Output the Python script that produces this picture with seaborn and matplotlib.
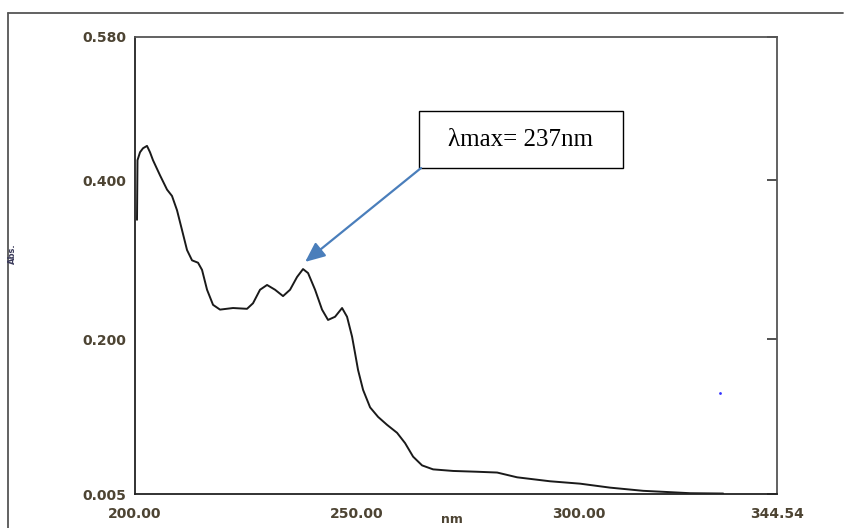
import matplotlib
matplotlib.use("Agg")
import matplotlib.pyplot as plt
from matplotlib.lines import Line2D
from matplotlib.patches import Rectangle
import seaborn as sns
import pandas as pd

# ---- data ----
wavelength_nm = [200.45, 200.56, 201.13, 201.80, 202.70, 203.38, 204.05, 205.63, 207.21,
                 208.33, 209.46, 210.59, 211.71, 212.84, 214.19, 215.09, 216.22, 217.57,
                 219.14, 222.07, 225.22, 226.57, 228.15, 229.73, 231.53, 233.33, 234.91,
                 236.48, 237.83, 238.96, 240.54, 242.11, 243.46, 245.04, 246.62, 247.74,
                 248.87, 249.55, 250.22, 251.35, 252.93, 254.73, 256.75, 259.00, 260.81,
                 262.61, 264.63, 267.11, 271.62, 277.02, 281.53, 286.03, 293.46, 300.22,
                 306.97, 314.40, 319.81, 324.99, 332.42]
absorbance = [0.350, 0.425, 0.435, 0.440, 0.443, 0.435, 0.425, 0.406, 0.388,
              0.380, 0.362, 0.337, 0.312, 0.299, 0.296, 0.287, 0.262, 0.243,
              0.237, 0.239, 0.238, 0.245, 0.262, 0.268, 0.262, 0.254, 0.262,
              0.278, 0.288, 0.283, 0.262, 0.237, 0.224, 0.228, 0.239, 0.228,
              0.203, 0.182, 0.161, 0.136, 0.114, 0.102, 0.092, 0.082, 0.069,
              0.052, 0.041, 0.036, 0.034, 0.033, 0.032, 0.026, 0.021, 0.018,
              0.013, 0.009, 0.0075, 0.006, 0.0056]
stray_x = [331.8]
stray_y = [0.132]

x_ticks = [200.00, 250.00, 300.00, 344.54]
x_ticklabels = ["200.00", "250.00", "300.00", "344.54"]
y_ticks = [0.005, 0.200, 0.400, 0.580]
y_ticklabels = ["0.005", "0.200", "0.400", "0.580"]

annot_text = "\u03bbmax= 237nm"
annot_tip = (238.3, 0.297)

df = pd.DataFrame({"nm": wavelength_nm, "Abs": absorbance})

sns.set_theme(style="white")
plt.rcParams["font.family"] = ["DejaVu Sans"]

fig = plt.figure(figsize=(8.45, 5.28), dpi=100)
ax = fig.add_axes([135/845, 1-494/528, (777-135)/845, (494-37)/528])

sns.lineplot(data=df, x="nm", y="Abs", sort=False, estimator=None,
             color="#1a1a1a", linewidth=1.4, ax=ax)
ax.scatter(stray_x, stray_y, s=4, color="#3333ff", zorder=3, linewidths=0)

ax.set_xlim(x_ticks[0], x_ticks[-1])
ax.set_ylim(y_ticks[0], y_ticks[-1])
ax.set_xticks(x_ticks)
ax.set_xticklabels(x_ticklabels)
ax.set_yticks(y_ticks)
ax.set_yticklabels(y_ticklabels)
ax.set_xlabel("")
ax.set_ylabel("")

lab_color = "#4d4433"
ax.tick_params(axis="both", direction="in", length=7, width=1.2, color="#333333",
               labelsize=10, labelcolor=lab_color)
ax.tick_params(axis="y", right=True, pad=6)
ax.tick_params(axis="x", pad=9)
for lbl in ax.get_xticklabels() + ax.get_yticklabels():
    lbl.set_fontweight("bold")

for side, col in [("left", "#222222"), ("bottom", "#222222"), ("top", "#555555"), ("right", "#555555")]:
    ax.spines[side].set_visible(True)
    ax.spines[side].set_color(col)
    ax.spines[side].set_linewidth(1.3)

# annotation box
ax.add_patch(Rectangle((0.4424, 0.7133), 0.7601-0.4424, 0.8381-0.7133,
                       transform=ax.transAxes, facecolor="white",
                       edgecolor="black", linewidth=1.0, zorder=4))
ax.text(0.6012, 0.7757, annot_text, transform=ax.transAxes, ha="center", va="center",
        fontsize=18, family=["Liberation Serif", "DejaVu Serif"], color="black", zorder=5)
ax.annotate("", xy=annot_tip, xycoords="data", xytext=(0.4455, 0.7133),
            textcoords="axes fraction",
            arrowprops=dict(arrowstyle="-|>,head_length=0.8,head_width=0.35",
                            mutation_scale=15, color="#4a7ebb", lw=1.6,
                            shrinkA=0, shrinkB=0), zorder=5)

# axis labels as in the instrument print
fig.text(12/845, 1-254/528, "Abs.", rotation=90, ha="center", va="center",
         fontsize=6, fontweight="bold", color="#3a3a5a")
fig.text(452/845, 2/528, "nm", ha="center", va="bottom",
         fontsize=9, fontweight="bold", color=lab_color)

# outer frame (left and top edges)
fig.add_artist(Line2D([8/845, 8/845], [0, 1-13/528], transform=fig.transFigure,
                      color="#555555", linewidth=1.3))
fig.add_artist(Line2D([8/845, 843/845], [1-13/528, 1-13/528], transform=fig.transFigure,
                      color="#555555", linewidth=1.3))

fig.savefig("out.png", dpi=100, facecolor="white")
